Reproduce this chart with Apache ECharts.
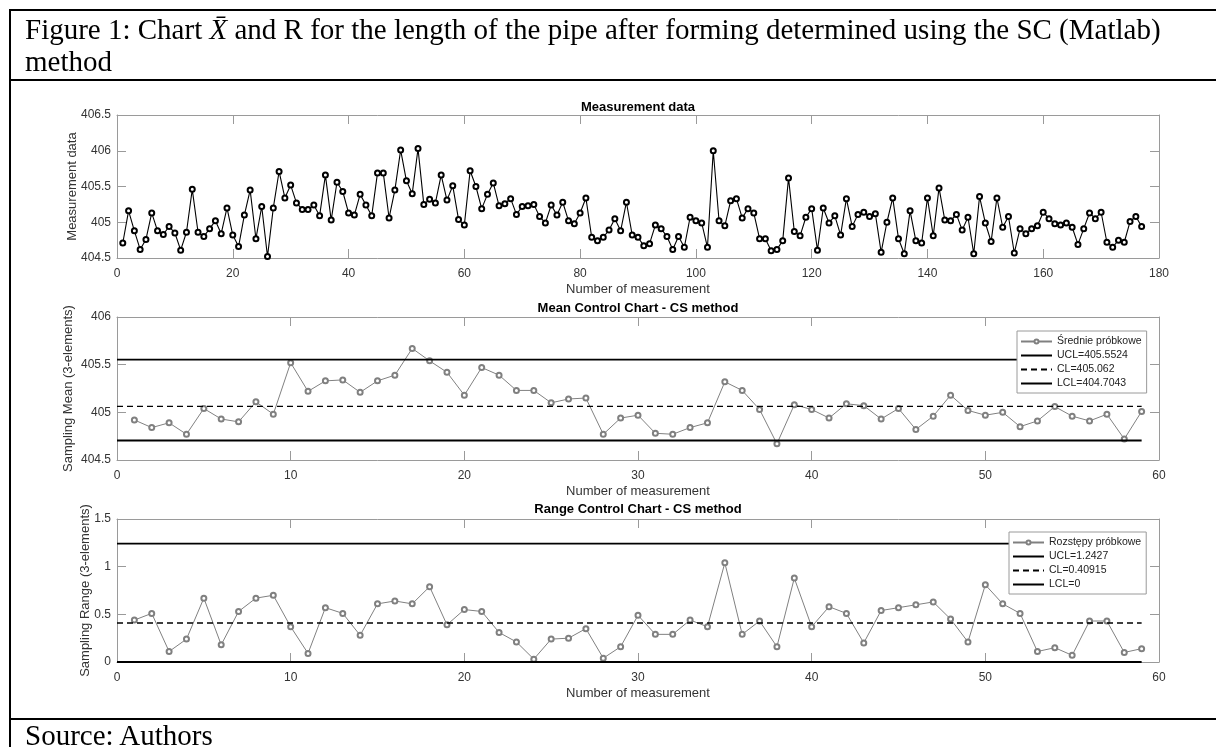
<!DOCTYPE html>
<html>
<head>
<meta charset="utf-8">
<title>X-bar and R chart</title>
<script src="https://cdn.jsdelivr.net/npm/echarts@6/dist/echarts.min.js"></script>
<style>
  html, body { margin: 0; padding: 0; background: #fff; }
  body { width: 1216px; height: 747px; overflow: hidden; position: relative; }
  #chart { position: absolute; left: 0; top: 0; width: 1216px; height: 747px; }
  #frame { position: absolute; left: 9px; top: 9px; width: 1300px; height: 800px;
           border-left: 2px solid #000; border-top: 2px solid #000; pointer-events: none; }
  .rule { position: absolute; left: 9px; width: 1300px; height: 2px; background: #000; }
  .cap { position: absolute; left: 25px; font-family: 'Liberation Serif', 'Times New Roman', serif;
         font-size: 29px; line-height: 32px; color: #000; }
</style>
</head>
<body>
<div id="chart"></div>
<div id="frame"></div>
<div class="cap" style="top:13px;width:1185px;">Figure 1: Chart <i>X&#772;</i> and R for the length of the pipe after forming determined using the SC (Matlab) method</div>
<div class="rule" style="top:79px;"></div>
<div class="rule" style="top:718px;"></div>
<div class="cap" style="top:719px;">Source: Authors</div>
<script>
// raw measurements, 177 values (3 per sample)
const measurements = [
  404.71, 405.16, 404.88, 404.62, 404.76, 405.13, 404.88, 404.83, 404.94, 404.85,
  404.61, 404.86, 405.46, 404.86, 404.80, 404.91, 405.02, 404.84, 405.20, 404.82,
  404.66, 405.10, 405.45, 404.77, 405.22, 404.52, 405.20, 405.71, 405.34, 405.52,
  405.27, 405.18, 405.18, 405.24, 405.09, 405.66, 405.03, 405.56, 405.43, 405.13,
  405.10, 405.39, 405.24, 405.09, 405.69, 405.69, 405.06, 405.45, 406.01, 405.58,
  405.40, 406.03, 405.25, 405.32, 405.27, 405.66, 405.31, 405.51, 405.04, 404.96,
  405.72, 405.50, 405.19, 405.39, 405.55, 405.23, 405.26, 405.33, 405.11, 405.22,
  405.23, 405.25, 405.08, 404.99, 405.24, 405.10, 405.28, 405.02, 404.98, 405.13,
  405.34, 404.79, 404.74, 404.79, 404.89, 405.05, 404.88, 405.28, 404.82, 404.79,
  404.67, 404.70, 404.96, 404.91, 404.80, 404.62, 404.80, 404.65, 405.07, 405.02,
  404.99, 404.65, 406.00, 405.02, 404.95, 405.30, 405.33, 405.06, 405.19, 405.13,
  404.77, 404.77, 404.60, 404.62, 404.74, 405.62, 404.87, 404.81, 405.07, 405.19,
  404.61, 405.20, 404.99, 405.09, 404.82, 405.33, 404.94, 405.11, 405.14, 405.08,
  405.12, 404.58, 405.00, 405.34, 404.77, 404.56, 405.16, 404.74, 404.71, 405.34,
  404.81, 405.48, 405.03, 405.02, 405.11, 404.89, 405.07, 404.56, 405.36, 404.99,
  404.73, 405.34, 404.93, 405.08, 404.57, 404.91, 404.84, 404.91, 404.95, 405.14,
  405.05, 404.98, 404.96, 404.99, 404.93, 404.69, 404.91, 405.13, 405.05, 405.14,
  404.72, 404.65, 404.75, 404.72, 405.01, 405.08, 404.94
];

// sample means
const sampleMeans = [
  404.92, 404.84, 404.89, 404.77, 405.04, 404.93, 404.90, 405.11, 404.98, 405.52,
  405.22, 405.33, 405.34, 405.21, 405.33, 405.39, 405.67, 405.54, 405.42, 405.18,
  405.47, 405.39, 405.23, 405.23, 405.10, 405.14, 405.15, 404.77, 404.94, 404.97,
  404.78, 404.77, 404.84, 404.89, 405.32, 405.23, 405.03, 404.67, 405.08, 405.03,
  404.94, 405.09, 405.07, 404.93, 405.04, 404.82, 404.96, 405.18, 405.02, 404.97,
  405.00, 404.85, 404.91, 405.06, 404.96, 404.91, 404.98, 404.72, 405.01
];

// sample ranges
const sampleRanges = [
  0.44, 0.51, 0.11, 0.24, 0.67, 0.18, 0.53, 0.67, 0.70, 0.37,
  0.09, 0.57, 0.51, 0.28, 0.61, 0.64, 0.61, 0.79, 0.39, 0.55,
  0.53, 0.31, 0.21, 0.03, 0.24, 0.25, 0.35, 0.04, 0.16, 0.49,
  0.29, 0.29, 0.44, 0.37, 1.04, 0.29, 0.43, 0.16, 0.88, 0.37,
  0.58, 0.51, 0.20, 0.54, 0.57, 0.60, 0.63, 0.45, 0.21, 0.81,
  0.61, 0.51, 0.11, 0.15, 0.07, 0.43, 0.43, 0.10, 0.14
];

const meanLimits = { UCL: 405.5524, CL: 405.062, LCL: 404.7043 };
const rangeLimits = { UCL: 1.2427, CL: 0.40915, LCL: 0 };

const FONT = "'Liberation Sans', Arial, Helvetica, sans-serif";
const AX = '#9a9a9a';
const TXT = '#333';
const GRAY = '#808080';

const chart = echarts.init(document.getElementById('chart'), null, { renderer: 'canvas' });

// bottom axis with labels + top axis with ticks only (matlab box look)
function xPair(g, max, step, name) {
  const common = { type: 'value', gridIndex: g, min: 0, max: max, interval: step,
    axisLine: { show: true, onZero: false, lineStyle: { color: AX, width: 1 } },
    axisTick: { show: true, inside: true, length: 9, lineStyle: { color: AX } },
    splitLine: { show: false } };
  return [
    Object.assign({}, common, { position: 'bottom', name: name, nameLocation: 'middle', nameGap: 25,
      nameMoveOverlap: false,
      nameTextStyle: { color: TXT, fontSize: 13, fontFamily: FONT },
      axisLabel: { color: TXT, fontSize: 12, margin: 10, fontFamily: FONT } }),
    Object.assign({}, common, { position: 'top', axisLabel: { show: false } })
  ];
}

function yPair(g, min, max, step, name, gap) {
  const common = { type: 'value', gridIndex: g, min: min, max: max, interval: step,
    axisLine: { show: true, onZero: false, lineStyle: { color: AX, width: 1 } },
    axisTick: { show: true, inside: true, length: 9, lineStyle: { color: AX } },
    splitLine: { show: false } };
  return [
    Object.assign({}, common, { position: 'left', name: name, nameLocation: 'middle', nameGap: gap,
      nameMoveOverlap: false,
      nameTextStyle: { color: TXT, fontSize: 13, fontFamily: FONT },
      axisLabel: { color: TXT, fontSize: 12, margin: 6, fontFamily: FONT } }),
    Object.assign({}, common, { position: 'right', axisLabel: { show: false } })
  ];
}

function limitSeries(name, val, n, dashed, axis) {
  return {
    name: name, type: 'line', xAxisIndex: axis, yAxisIndex: axis,
    data: [[0, val], [n, val]], symbol: 'none', silent: true, z: 3,
    lineStyle: { color: '#000', width: dashed ? 1.3 : 1.8, type: dashed ? [6, 4] : 'solid' },
    itemStyle: { color: '#000' }
  };
}

// legend entries: no marker for the limit lines
function legendItems(names) {
  return names.map((n, i) => i === 0
    ? { name: n }
    : { name: n, itemStyle: { opacity: 0, color: 'rgba(0,0,0,0)', borderWidth: 0 } });
}

const nS = sampleMeans.length;

const legendBase = {
  orient: 'vertical', itemWidth: 31, itemHeight: 5, itemGap: 3,
  padding: [5, 5, 4, 3], backgroundColor: '#fff', borderColor: '#9a9a9a', borderWidth: 1,
  borderRadius: 0, selectedMode: false,
  textStyle: { fontSize: 10.5, color: '#222', fontFamily: FONT }
};

const option = {
  animation: false,
  backgroundColor: 'transparent',
  title: [
    { text: 'Measurement data', left: 638, top: 101, textAlign: 'center', padding: 0,
      textStyle: { fontSize: 13, fontWeight: 'bold', color: '#000', fontFamily: FONT } },
    { text: 'Mean Control Chart - CS method', left: 638, top: 302, textAlign: 'center', padding: 0,
      textStyle: { fontSize: 13, fontWeight: 'bold', color: '#000', fontFamily: FONT } },
    { text: 'Range Control Chart - CS method', left: 638, top: 503, textAlign: 'center', padding: 0,
      textStyle: { fontSize: 13, fontWeight: 'bold', color: '#000', fontFamily: FONT } }
  ],
  grid: [
    { left: 117, top: 115, width: 1042, height: 143 },
    { left: 117, top: 317, width: 1042, height: 143 },
    { left: 117, top: 519, width: 1042, height: 143 }
  ],
  xAxis: [].concat(
    xPair(0, 180, 20, 'Number of measurement'),
    xPair(1, 60, 10, 'Number of measurement'),
    xPair(2, 60, 10, 'Number of measurement')
  ),
  yAxis: [].concat(
    yPair(0, 404.5, 406.5, 0.5, 'Measurement data', 38),
    yPair(1, 404.5, 406, 0.5, 'Sampling Mean (3-elements)', 42),
    yPair(2, 0, 1.5, 0.5, 'Sampling Range (3-elements)', 25)
  ),
  legend: [
    Object.assign({}, legendBase, { left: 1017, top: 331,
      data: legendItems(['Średnie próbkowe', 'UCL=405.5524', 'CL=405.062', 'LCL=404.7043']) }),
    Object.assign({}, legendBase, { left: 1009, top: 532,
      data: legendItems(['Rozstępy próbkowe', 'UCL=1.2427', 'CL=0.40915', 'LCL=0']) })
  ],
  series: [
    { name: 'Measurement data', type: 'line', xAxisIndex: 0, yAxisIndex: 0,
      data: measurements.map((v, i) => [i + 1, v]),
      symbol: 'emptyCircle', symbolSize: 5, silent: true,
      lineStyle: { color: '#000', width: 1.1 },
      itemStyle: { color: '#000', borderWidth: 1 } },

    { name: 'Średnie próbkowe', type: 'line', xAxisIndex: 2, yAxisIndex: 2,
      data: sampleMeans.map((v, i) => [i + 1, v]),
      symbol: 'emptyCircle', symbolSize: 5, silent: true, z: 2,
      lineStyle: { color: GRAY, width: 1 },
      itemStyle: { color: GRAY, borderWidth: 1 } },
    limitSeries('UCL=405.5524', meanLimits.UCL, nS, false, 2),
    limitSeries('CL=405.062', meanLimits.CL, nS, true, 2),
    limitSeries('LCL=404.7043', meanLimits.LCL, nS, false, 2),

    { name: 'Rozstępy próbkowe', type: 'line', xAxisIndex: 4, yAxisIndex: 4,
      data: sampleRanges.map((v, i) => [i + 1, v]),
      symbol: 'emptyCircle', symbolSize: 5, silent: true, z: 2,
      lineStyle: { color: GRAY, width: 1 },
      itemStyle: { color: GRAY, borderWidth: 1 } },
    limitSeries('UCL=1.2427', rangeLimits.UCL, sampleRanges.length, false, 4),
    limitSeries('CL=0.40915', rangeLimits.CL, sampleRanges.length, true, 4),
    limitSeries('LCL=0', rangeLimits.LCL, sampleRanges.length, false, 4)
  ]
};

chart.setOption(option);
</script>
</body>
</html>
